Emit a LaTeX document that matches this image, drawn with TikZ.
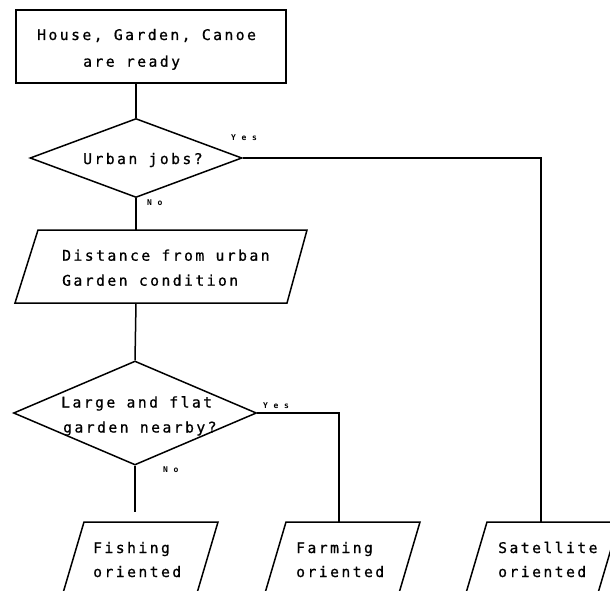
\documentclass[tikz,border=0pt]{standalone}
\usepackage{fontspec}
\newfontfamily\plotfont[LetterSpace=16.7,FakeBold=0.8]{DejaVu Sans Mono}
\newfontfamily\tagfont[LetterSpace=70]{DejaVu Sans Mono Bold}
\usetikzlibrary{shapes.geometric,calc}
\tikzset{
  shapeline/.style={line width=1.5pt, line join=miter},
  conn/.style={line width=1.5pt},
  txt/.style={anchor=base west, inner sep=0pt, font=\plotfont\fontsize{14.7pt}{18pt}\selectfont},
  tag/.style={anchor=base west, inner sep=0pt, font=\tagfont\fontsize{8pt}{9pt}\selectfont},
  diam/.style={diamond, draw, shapeline, inner sep=0pt, aspect=1}
}
\begin{document}
\begin{tikzpicture}[x=1pt,y=-1pt]
\useasboundingbox (0,0) rectangle (610,591);
\clip (0,0) rectangle (610,591);
% start box
\node[draw, shapeline, minimum width=270pt, minimum height=73pt, inner sep=0pt] (start) at (151,46.5) {};
\node[txt] (t1a) at (37,40) {House, Garden, Canoe};
\node[txt] (t1b) at (83,66.7) {are ready};
% diamond 1
\node[diam, minimum width=212pt, minimum height=79pt] (d1) at (136,158) {};
\node[txt] (t2) at (83,164) {Urban jobs?};
% parallelogram 1
\coordinate (p1tl) at (38,230); \coordinate (p1tr) at (307,230);
\coordinate (p1br) at (287,303); \coordinate (p1bl) at (15,303);
\draw[shapeline] (p1tl) -- (p1tr) -- (p1br) -- (p1bl) -- cycle;
\coordinate (p1n) at (136,230); \coordinate (p1s) at (136,303);
\node[txt] (t3a) at (62,260.7) {Distance from urban};
\node[txt] (t3b) at (62,285.7) {Garden condition};
% diamond 2
\node[diam, minimum width=243pt, minimum height=104pt] (d2) at (135,413) {};
\node[txt] (t4a) at (61,407.5) {Large and flat};
\node[txt] (t4b) at (63,432.5) {garden nearby?};
% bottom boxes (cut by the page edge)
\coordinate (fitl) at (84,522); \coordinate (fitr) at (218,522);
\draw[shapeline] ($(fitl)+(-26,88)$) -- (fitl) -- (fitr) -- ($(fitr)+(-26,88)$);
\coordinate (fan) at (339,522);
\coordinate (fatl) at (286,522); \coordinate (fatr) at (420,522);
\draw[shapeline] ($(fatl)+(-26,88)$) -- (fatl) -- (fatr) -- ($(fatr)+(-26,88)$);
\coordinate (san) at (541,522);
\coordinate (satl) at (487,522); \coordinate (satr) at (619,522);
\draw[shapeline] ($(satl)+(-26,88)$) -- (satl) -- (satr) -- ($(satr)+(-26,88)$);
\node[txt] (t5a) at (93,553) {Fishing};
\node[txt] (t5b) at (93,577) {oriented};
\node[txt] (t6a) at (296,553) {Farming};
\node[txt] (t6b) at (296,577) {oriented};
\node[txt] (t7a) at (498,553) {Satellite};
\node[txt] (t7b) at (498,577) {oriented};
% connectors
\draw[conn] (start.south -| d1.north) -- (d1.north);
\draw[conn] (d1.east) -| (san);
\draw[conn] (d1.south) -- (p1n);
\draw[conn] (p1s) -- (d2.north);
\draw[conn] (d2.east) -| (fan);
\coordinate (fin) at (135,512);
\draw[conn] (d2.south) -- (fin);
% tags
\node[tag] (y1) at (231,140) {Yes};
\node[tag] (n1) at (147,205) {No};
\node[tag] (y2) at (263,408.5) {Yes};
\node[tag] (n2) at (163,472) {No};
\end{tikzpicture}
\end{document}
